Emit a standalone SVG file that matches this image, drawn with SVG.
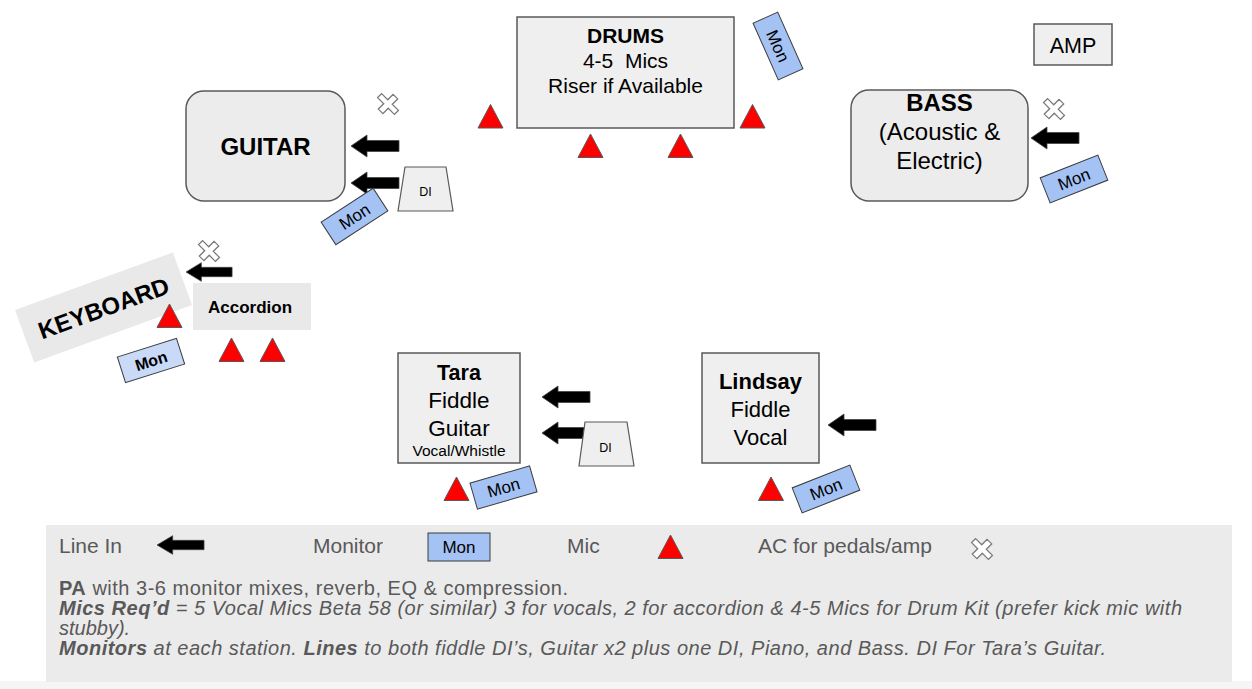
<svg xmlns="http://www.w3.org/2000/svg" width="1252" height="689" viewBox="0 0 1252 689">
<defs>
<style>
text{font-family:"Liberation Sans",Arial,sans-serif;fill:#000;}
.box{fill:#efefef;stroke:#595959;stroke-width:1.5;}
.rbox{fill:#ececec;stroke:#595959;stroke-width:1.5;}
.flat{fill:#e9e9e9;}
.mon{fill:#a4c2f4;stroke:#3c3c3c;stroke-width:1;}
.monl{fill:#c9daf8;stroke:#3c3c3c;stroke-width:1;}
.mic{fill:#ff0000;stroke:#595959;stroke-width:1;}
.di{fill:#efefef;stroke:#595959;stroke-width:1.2;}
.arrow{fill:#000;stroke:#444;stroke-width:0.8;}
.ac{fill:#fff;stroke:#7a7a7a;stroke-width:1.3;}
.c{text-anchor:middle;}
.b{font-weight:bold;}
.leg{fill:#595959;font-size:21px;}
.legb{fill:#595959;font-size:20px;}
</style>
<path id="arr" d="M0,0 L16,-11 L16,-5.5 L48,-5.5 L48,5.5 L16,5.5 L16,11 Z"/>
<path id="mictri" d="M0,-12 L12.5,11.5 L-12.5,11.5 Z"/>
<path id="acx" d="M-3,-11 L3,-11 L3,-3 L11,-3 L11,3 L3,3 L3,11 L-3,11 L-3,3 L-11,3 L-11,-3 L-3,-3 Z"/>
</defs>
<rect width="1252" height="689" fill="#fff"/>

<!-- Legend panel -->
<g id="legend">
<rect x="0" y="681" width="1252" height="8" fill="#f5f5f5"/>
<rect x="46" y="525" width="1186" height="157" fill="#ebebeb"/>
<text class="leg" x="59" y="553">Line In</text>
<use href="#arr" class="arrow" transform="translate(157,545) scale(0.98,0.85)"/>
<text class="leg" x="313" y="553">Monitor</text>
<rect class="mon" x="428" y="533" width="62" height="28"/>
<text class="c" x="459" y="553" style="font-size:17px">Mon</text>
<text class="leg" x="567" y="553">Mic</text>
<use href="#mictri" class="mic" transform="translate(670.5,547)"/>
<text class="leg" x="758" y="553">AC for pedals/amp</text>
<use href="#acx" class="ac" transform="translate(982,549) rotate(45) scale(1.08,0.95)"/>
<text class="legb" x="59" y="595" textLength="509"><tspan font-weight="bold">PA</tspan> with 3-6 monitor mixes, reverb, EQ &amp; compression.</text>
<text class="legb" x="59" y="615" font-style="italic" textLength="1123"><tspan font-weight="bold">Mics Req’d</tspan> = 5 Vocal Mics Beta 58 (or similar) 3 for vocals, 2 for accordion &amp; 4-5 Mics for Drum Kit (prefer kick mic with</text>
<text class="legb" x="59" y="635" font-style="italic">stubby).</text>
<text class="legb" x="59" y="655" font-style="italic" textLength="1047"><tspan font-weight="bold">Monitors</tspan> at each station. <tspan font-weight="bold">Lines</tspan> to both fiddle DI’s, Guitar x2 plus one DI, Piano, and Bass. DI For Tara’s Guitar.</text>
</g>

<!-- Drums -->
<g id="drums">
<rect class="box" x="517" y="17" width="217" height="111"/>
<text class="c b" x="625.5" y="43" style="font-size:21px">DRUMS</text>
<text class="c" x="625.5" y="68" style="font-size:21px">4-5&#160; Mics</text>
<text class="c" x="625.5" y="93" style="font-size:21px">Riser if Available</text>
<use href="#mictri" class="mic" transform="translate(490.5,116.5)"/>
<use href="#mictri" class="mic" transform="translate(590.5,146)"/>
<use href="#mictri" class="mic" transform="translate(680.5,146)"/>
<use href="#mictri" class="mic" transform="translate(752.5,116.5)"/>
<g transform="translate(778,46) rotate(66)">
<rect class="mon" x="-31" y="-13.5" width="62" height="27"/>
<text class="c" x="0" y="6" style="font-size:17px">Mon</text>
</g>
</g>

<!-- AMP -->
<g id="amp">
<rect class="box" x="1034" y="24" width="78" height="41"/>
<text class="c" x="1073" y="53" style="font-size:21.5px">AMP</text>
</g>

<!-- Bass -->
<g id="bass">
<rect class="rbox" x="851" y="90" width="177" height="111" rx="18"/>
<text class="c b" x="939.5" y="111" style="font-size:24px">BASS</text>
<text class="c" x="939.5" y="140" style="font-size:24px">(Acoustic &amp;</text>
<text class="c" x="939.5" y="169" style="font-size:24px">Electric)</text>
<use href="#acx" class="ac" transform="translate(1054,109) rotate(45) scale(1.08,0.95)"/>
<use href="#arr" class="arrow" transform="translate(1031,138)"/>
<g transform="translate(1074,179) rotate(-21.6)">
<rect class="mon" x="-31" y="-13.5" width="62" height="27"/>
<text class="c" x="0" y="6" style="font-size:17px">Mon</text>
</g>
</g>

<!-- Guitar -->
<g id="guitar">
<rect class="rbox" x="186" y="91" width="159" height="110" rx="18"/>
<text class="c b" x="265.5" y="155" style="font-size:24px">GUITAR</text>
<use href="#acx" class="ac" transform="translate(388,104) rotate(45) scale(1.08,0.95)"/>
<use href="#arr" class="arrow" transform="translate(351,146)"/>
<use href="#arr" class="arrow" transform="translate(351,183)"/>
<polygon class="di" points="405,167 446,167 453,211 398,211"/>
<text class="c" x="425.5" y="196" style="font-size:12.5px">DI</text>
<g transform="translate(354.5,216.5) rotate(-33)">
<rect class="mon" x="-31" y="-13.5" width="62" height="27"/>
<text class="c" x="0" y="6" style="font-size:17px">Mon</text>
</g>
</g>

<!-- Keyboard -->
<g id="keyboard">
<g transform="translate(103.5,307.5) rotate(-20)">
<rect class="flat" x="-84" y="-28" width="168" height="56"/>
<text class="c b" x="0" y="9" style="font-size:24px">KEYBOARD</text>
</g>
<use href="#acx" class="ac" transform="translate(209,251) rotate(45) scale(1.08,0.95)"/>
<use href="#arr" class="arrow" transform="translate(186,272) scale(0.96,0.85)"/>
<g transform="translate(151,360.5) rotate(-17.6)">
<rect class="monl" x="-31" y="-13.5" width="62" height="27"/>
<text class="c b" x="0" y="6" style="font-size:16px">Mon</text>
</g>
<use href="#mictri" class="mic" transform="translate(169.5,316)"/>
</g>

<!-- Accordion -->
<g id="accordion">
<rect class="flat" x="193" y="283" width="118" height="47"/>
<text class="c b" x="250" y="313" style="font-size:17px">Accordion</text>
<use href="#mictri" class="mic" transform="translate(231.5,350)"/>
<use href="#mictri" class="mic" transform="translate(272.5,350)"/>
</g>

<!-- Tara -->
<g id="tara">
<rect class="box" x="398" y="353" width="122" height="110"/>
<text class="c b" x="459" y="380" style="font-size:21.5px">Tara</text>
<text class="c" x="459" y="408" style="font-size:22.5px">Fiddle</text>
<text class="c" x="459" y="436" style="font-size:22.5px">Guitar</text>
<text class="c" x="459" y="456" style="font-size:15.5px">Vocal/Whistle</text>
<use href="#arr" class="arrow" transform="translate(542,397)"/>
<use href="#arr" class="arrow" transform="translate(542,433)"/>
<polygon class="di" points="585,422 627,422 634,466 579,466"/>
<text class="c" x="605.5" y="452" style="font-size:12.5px">DI</text>
<use href="#mictri" class="mic" transform="translate(456.5,489)"/>
<g transform="translate(503.5,487.5) rotate(-16)">
<rect class="mon" x="-31" y="-13.5" width="62" height="27"/>
<text class="c" x="0" y="6" style="font-size:17px">Mon</text>
</g>
</g>

<!-- Lindsay -->
<g id="lindsay">
<rect class="box" x="702" y="353" width="117" height="110"/>
<text class="c b" x="760.5" y="389" style="font-size:22px">Lindsay</text>
<text class="c" x="760.5" y="417" style="font-size:22px">Fiddle</text>
<text class="c" x="760.5" y="445" style="font-size:22px">Vocal</text>
<use href="#arr" class="arrow" transform="translate(828,425)"/>
<use href="#mictri" class="mic" transform="translate(771,489)"/>
<g transform="translate(826,489) rotate(-21.6)">
<rect class="mon" x="-31" y="-13.5" width="62" height="27"/>
<text class="c" x="0" y="6" style="font-size:17px">Mon</text>
</g>
</g>
</svg>
